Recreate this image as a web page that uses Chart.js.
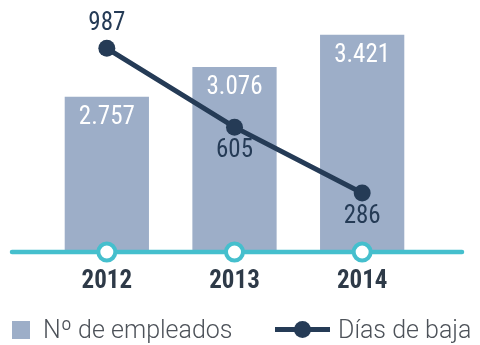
<!DOCTYPE html>
<html>
<head>
<meta charset="utf-8">
<script src="https://cdn.jsdelivr.net/npm/chart.js@4.4.1/dist/chart.umd.min.js"></script>
<style>
  html, body { margin: 0; padding: 0; background: #fff; }
  .wrap { position: relative; width: 480px; height: 345px; overflow: hidden; }
  .chart-box { position: absolute; left: 0; top: 0; width: 480px; height: 316px; }
  .legend {
    position: absolute; left: 0; top: 315px; width: 480px; height: 29px;
    font-family: Roboto, "Noto Sans", sans-serif; font-weight: 300; font-size: 25px;
    line-height: 29px; color: #4d5259; white-space: nowrap;
  }
  .legend .item { position: absolute; top: 0; height: 29px; display: flex; align-items: center; }
  .legend .swatch { width: 18px; height: 18px; margin-right: 13px; }
  .legend .line-key { position: relative; width: 55px; height: 18px; margin-right: 8px; }
  .legend .line-key .bar { position: absolute; left: 0; right: 0; top: 6.5px; height: 5px; }
  .legend .line-key .dot { position: absolute; left: 19px; top: 0; width: 17px; height: 17px; border-radius: 50%; }
</style>
</head>
<body>
<div class="wrap">
  <div class="chart-box"><canvas id="chart"></canvas></div>
  <div class="legend" id="legend"></div>
</div>
<script>
const years = ['2012', '2013', '2014'];
const empleados = [2757, 3076, 3421];
const diasBaja = [987, 605, 286];

const BAR_COLOR = '#9daec8';
const LINE_COLOR = '#253b56';
const AXIS_COLOR = '#45bfcd';
const NUM_FONT = '"Roboto Condensed", "Liberation Sans Narrow", "DejaVu Sans Condensed", sans-serif';

// numbers inside the bars and next to the line points
const valueLabels = {
  id: 'valueLabels',
  afterDatasetsDraw(chart) {
    const ctx = chart.ctx;
    ctx.save();
    ctx.textAlign = 'center';
    ctx.textBaseline = 'middle';
    ctx.font = '25px ' + NUM_FONT;
    chart.data.datasets.forEach((ds, i) => {
      const meta = chart.getDatasetMeta(i);
      meta.data.forEach((el, j) => {
        const text = ds.data[j].toLocaleString('es-ES', { useGrouping: 'always' });
        if (ds.type === 'bar') {
          ctx.fillStyle = '#ffffff';
          ctx.fillText(text, el.x, el.y + 21);
        } else {
          const above = ds.labelSide[j] === 'top';
          ctx.fillStyle = LINE_COLOR;
          ctx.fillText(text, el.x, el.y + (above ? -25 : 24));
        }
      });
    });
    ctx.restore();
  }
};

// teal baseline with ring markers under each year
const baseline = {
  id: 'baseline',
  afterDatasetsDraw(chart) {
    const ctx = chart.ctx;
    const { left, right, bottom } = chart.chartArea;
    const xScale = chart.scales.x;
    ctx.save();
    ctx.strokeStyle = AXIS_COLOR;
    ctx.lineCap = 'round';
    ctx.lineWidth = 4.5;
    ctx.beginPath();
    ctx.moveTo(left - 31, bottom);
    ctx.lineTo(right + 36, bottom);
    ctx.stroke();
    ctx.lineWidth = 4;
    ctx.fillStyle = '#ffffff';
    xScale.ticks.forEach((t, i) => {
      ctx.beginPath();
      ctx.arc(xScale.getPixelForTick(i), bottom, 8.5, 0, Math.PI * 2);
      ctx.fill();
      ctx.stroke();
    });
    ctx.restore();
  }
};

const chart = new Chart(document.getElementById('chart'), {
  data: {
    labels: years,
    datasets: [
      {
        type: 'line',
        label: 'Días de baja',
        data: diasBaja,
        yAxisID: 'y1',
        borderColor: LINE_COLOR,
        backgroundColor: LINE_COLOR,
        borderWidth: 5,
        pointRadius: 8.5,
        pointBorderWidth: 0,
        tension: 0,
        labelSide: ['top', 'bottom', 'bottom'],
        order: 1
      },
      {
        type: 'bar',
        label: 'Nº de empleados',
        data: empleados,
        yAxisID: 'y',
        backgroundColor: BAR_COLOR,
        borderWidth: 0,
        categoryPercentage: 1,
        barPercentage: 0.66,
        order: 2
      }
    ]
  },
  options: {
    responsive: true,
    maintainAspectRatio: false,
    animation: false,
    devicePixelRatio: 1,
    layout: { padding: { left: 43, right: 54, top: 8, bottom: 12 } },
    plugins: {
      legend: { display: false },
      tooltip: { enabled: false }
    },
    scales: {
      x: {
        grid: { display: false },
        border: { display: false },
        ticks: {
          color: '#2e3a48',
          padding: 7,
          font: { family: NUM_FONT, size: 25, weight: 'bold' }
        }
      },
      y: { display: false, min: 1100, max: 3700 },
      y1: { display: false, min: 0, max: 1180 }
    }
  },
  plugins: [baseline, valueLabels]
});

// legend built from the dataset colours
const legendEl = document.getElementById('legend');
legendEl.innerHTML =
  '<div class="item" style="left:12px"><span class="swatch" style="background:' + BAR_COLOR + '"></span>Nº de empleados</div>' +
  '<div class="item" style="left:275px"><span class="line-key"><span class="bar" style="background:' + LINE_COLOR +
  '"></span><span class="dot" style="background:' + LINE_COLOR + '"></span></span>Días de baja</div>';
</script>
</body>
</html>
